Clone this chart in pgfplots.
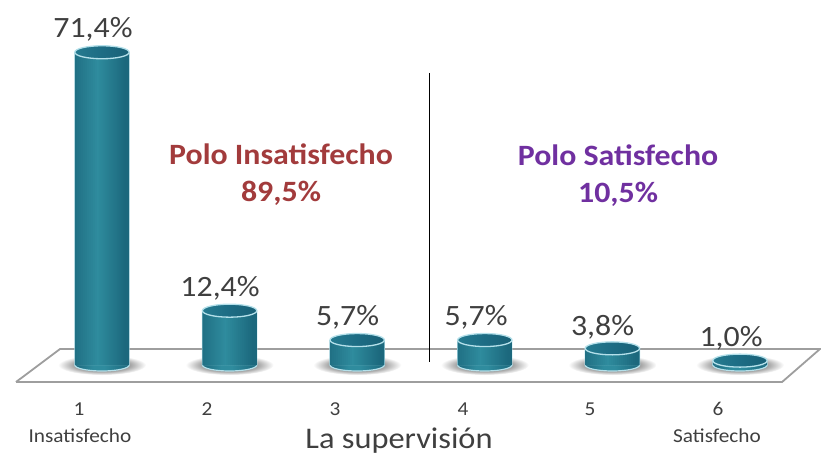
\documentclass[border=0pt]{standalone}
\usepackage{fontspec}
\setmainfont[FakeStretch=1.08]{Carlito}
\usepackage{pgfplots}
\usepackage{pgfplotstable}
\pgfplotsset{compat=1.18}

\definecolor{tealdark}{HTML}{1C687D}
\definecolor{teallight}{HTML}{2F8C9E}
\definecolor{tealtop}{HTML}{1D6C84}
\definecolor{tealedge}{HTML}{B4E0EA}
\definecolor{labelgray}{HTML}{3F3F3F}
\definecolor{polored}{HTML}{A23B3C}
\definecolor{polopurple}{HTML}{7030A0}

\pgfplotstableread{
cat val
1 71.4
2 12.4
3 5.7
4 5.7
5 3.8
6 1.0
}\supervision

\pgfplotstableread{
cat val
1 0
2 0
3 0
4 0
5 0
6 0
}\floorpoints

\pgfdeclarehorizontalshading{cylside}{100bp}{
  color(0bp)=(tealdark); color(25bp)=(tealdark); color(42bp)=(teallight);
  color(52bp)=(teallight); color(75bp)=(tealdark); color(100bp)=(tealdark)}
\pgfdeclarehorizontalshading{cyltop}{100bp}{
  color(0bp)=(teallight!45!tealtop); color(25bp)=(teallight!45!tealtop); color(50bp)=(tealtop);
  color(75bp)=(tealtop!90!black); color(100bp)=(tealtop!90!black)}
\pgfdeclareradialshading{floorshadow}{\pgfpointorigin}{
  color(0bp)=(black!55); color(12bp)=(black!50); color(18bp)=(black!28); color(25bp)=(white); color(50bp)=(white)}

% cylinder ends, drawn at the data points
\pgfdeclareplotmark{cyltopend}{
  \pgfpathellipse{\pgfpointorigin}{\pgfqpoint{27.2pt}{0pt}}{\pgfqpoint{0pt}{6.5pt}}
  \pgfshadepath{cyltop}{0}
  \pgfsetlinewidth{1.3pt}\pgfsetstrokecolor{tealedge}
  \pgfusepath{stroke}}
\pgfdeclareplotmark{cylbottomend}{
  \pgfpathellipse{\pgfpointorigin}{\pgfqpoint{27.2pt}{0pt}}{\pgfqpoint{0pt}{6pt}}
  \pgfshadepath{cylside}{0}
  \pgfsetlinewidth{1.2pt}\pgfsetstrokecolor{tealedge}
  \pgfusepath{stroke}}
\pgfdeclareplotmark{baseshadow}{
  \pgfpathellipse{\pgfpointorigin}{\pgfqpoint{44pt}{0pt}}{\pgfqpoint{0pt}{10pt}}
  \pgfshadepath{floorshadow}{0}
  \pgfusepath{discard}}

\pgfplotsset{chartbase/.style={
    scale only axis, width=821pt, height=454pt,
    xmin=0.2006, xmax=6.635,
    ymin=-20.32, ymax=83.33,
    hide axis, clip=false,
}}

\begin{document}
\begin{tikzpicture}
% floor and shadows first, so the cylinders stand on top of them
\begin{axis}[chartbase]
  \path[use as bounding box] (rel axis cs:0,0) rectangle (rel axis cs:1,1);
  \addplot[draw=black!38, line width=1.8pt, fill=white, line join=miter] coordinates {
    (0.326,-3.88) (0.671,3.65) (6.627,3.65) (6.33,-3.88) (0.326,-3.88)};
  \addplot[only marks, mark=baseshadow] table[x=cat, y=val] {\floorpoints};
  \addplot[only marks, mark=cylbottomend] table[x=cat, y=val] {\floorpoints};
\end{axis}

\begin{axis}[chartbase]
  \path[use as bounding box] (rel axis cs:0,0) rectangle (rel axis cs:1,1);

  % the values: pale edge, then narrow strips that give the round look
  \addplot[ybar, bar width=55.4pt, draw=none, fill=tealedge] table[x=cat, y=val] {\supervision};
  \pgfplotsinvokeforeach{-26,-24,...,26}{
    \pgfmathtruncatemacro\mixv{max(0,100-abs(#1+4)*(#1<-4 ? 3.4 : 3.6))}
    \edef\temp{\noexpand\addplot[ybar, bar width=2.4pt, bar shift=#1pt, draw=none,
      fill=teallight!\mixv!tealdark] table[x=cat, y=val] {\noexpand\supervision};}
    \temp
  }
  \addplot[only marks, mark=cyltopend] table[x=cat, y=val] {\supervision};

  % divider
  \addplot[black, line width=1pt] coordinates {(3.563,66.7) (3.563,0.7)};

  % data labels
  \begin{scope}[every node/.style={text=labelgray, font=\fontsize{29.5}{30}\selectfont, inner sep=0pt}]
    \node at (rel axis cs:0.1133,0.9361) {71,4\%};
    \node at (rel axis cs:0.2680,0.3656) {12,4\%};
    \node at (rel axis cs:0.4233,0.3018) {5,7\%};
    \node at (rel axis cs:0.5798,0.3018) {5,7\%};
    \node at (rel axis cs:0.7339,0.2797) {3,8\%};
    \node at (rel axis cs:0.8904,0.2555) {1,0\%};
  \end{scope}

  % pole captions
  \begin{scope}[every node/.style={font=\fontsize{29.5}{30}\selectfont\bfseries, inner sep=0pt}]
    \node[text=polored] at (rel axis cs:0.3423,0.6608) {Polo Insatisfecho};
    \node[text=polored] at (rel axis cs:0.3423,0.5749) {89,5\%};
    \node[text=polopurple] at (rel axis cs:0.7528,0.6586) {Polo Satisfecho};
    \node[text=polopurple] at (rel axis cs:0.7528,0.5727) {10,5\%};
  \end{scope}

  % category labels
  \begin{scope}[every node/.style={text=labelgray, font=\fontsize{19.7}{20}\selectfont, inner sep=0pt}]
    \node at (rel axis cs:0.0962,0.0991) {1};
    \node at (rel axis cs:0.2521,0.0991) {2};
    \node at (rel axis cs:0.4080,0.0991) {3};
    \node at (rel axis cs:0.5639,0.0991) {4};
    \node at (rel axis cs:0.7186,0.0991) {5};
    \node at (rel axis cs:0.8745,0.0991) {6};
    \node at (rel axis cs:0.0974,0.0396) {Insatisfecho};
    \node at (rel axis cs:0.8733,0.0396) {Satisfecho};
  \end{scope}
  \node[text=labelgray, font=\fontsize{30}{30}\selectfont, inner sep=0pt, anchor=base] at (rel axis cs:0.486,0.0132) {La supervisión};
\end{axis}
\end{tikzpicture}
\end{document}
